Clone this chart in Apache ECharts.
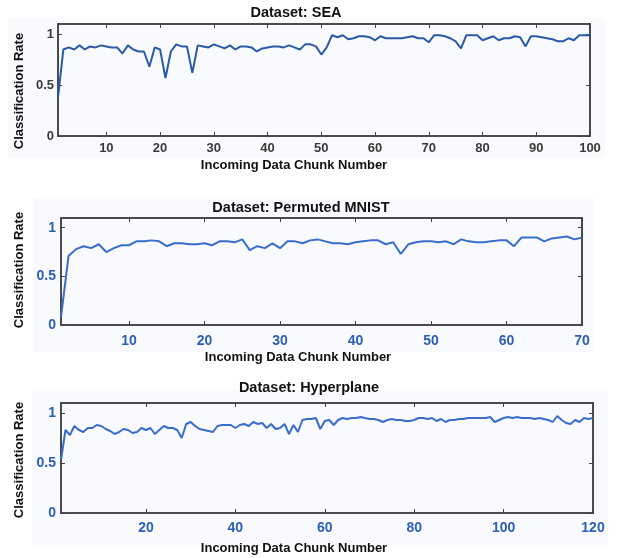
<!DOCTYPE html>
<html><head><meta charset="utf-8">
<script src="https://cdn.jsdelivr.net/npm/echarts@6/dist/echarts.min.js"></script>
<style>html,body{margin:0;padding:0;background:#fff}#c{width:618px;height:558px}</style>
</head><body><div id="c"></div>
<script>
const seaRate = [0.38,0.85,0.87,0.85,0.89,0.85,0.88,0.87,0.89,0.88,
 0.87,0.87,0.81,0.89,0.85,0.83,0.83,0.68,0.87,0.85,
 0.57,0.83,0.90,0.88,0.88,0.62,0.89,0.88,0.87,0.90,
 0.88,0.86,0.89,0.85,0.88,0.88,0.87,0.83,0.86,0.87,
 0.88,0.88,0.87,0.89,0.87,0.85,0.90,0.90,0.88,0.80,
 0.87,0.99,0.97,0.99,0.95,0.96,0.98,0.98,0.97,0.94,
 0.98,0.96,0.96,0.96,0.96,0.97,0.98,0.96,0.96,0.92,
 0.99,0.99,0.98,0.96,0.93,0.86,0.99,0.99,0.99,0.94,
 0.96,0.98,0.94,0.96,0.96,0.98,0.97,0.88,0.98,0.98,
 0.97,0.96,0.95,0.93,0.93,0.96,0.94,0.99,0.99,0.99];
const mnistRate = [0.08,0.71,0.78,0.81,0.79,0.83,0.75,0.79,0.82,0.82,
 0.86,0.86,0.87,0.86,0.81,0.84,0.84,0.83,0.83,0.84,
 0.82,0.86,0.86,0.85,0.88,0.77,0.81,0.79,0.84,0.79,
 0.86,0.86,0.84,0.87,0.88,0.86,0.84,0.84,0.83,0.85,
 0.86,0.87,0.87,0.83,0.85,0.73,0.83,0.85,0.86,0.86,
 0.85,0.86,0.83,0.88,0.86,0.85,0.85,0.86,0.87,0.87,
 0.81,0.90,0.90,0.90,0.86,0.89,0.90,0.91,0.88,0.90];
const hyperRate = [0.53,0.83,0.78,0.87,0.83,0.81,0.85,0.85,0.88,0.87,
 0.84,0.82,0.79,0.81,0.84,0.83,0.80,0.81,0.85,0.83,
 0.85,0.79,0.83,0.87,0.85,0.85,0.83,0.75,0.89,0.91,
 0.87,0.84,0.83,0.82,0.81,0.87,0.88,0.88,0.88,0.85,
 0.88,0.89,0.87,0.91,0.89,0.90,0.85,0.89,0.84,0.85,
 0.89,0.79,0.88,0.81,0.93,0.94,0.94,0.95,0.84,0.92,
 0.93,0.88,0.93,0.95,0.94,0.95,0.95,0.96,0.95,0.94,
 0.94,0.93,0.91,0.93,0.94,0.93,0.93,0.92,0.92,0.93,
 0.95,0.95,0.94,0.95,0.92,0.94,0.91,0.93,0.93,0.94,
 0.94,0.95,0.95,0.95,0.95,0.95,0.96,0.91,0.93,0.95,
 0.96,0.95,0.96,0.95,0.95,0.95,0.94,0.95,0.94,0.93,
 0.91,0.97,0.93,0.90,0.89,0.93,0.91,0.95,0.94,0.95];
const seaTicks = [10,20,30,40,50,60,70,80,90,100];
const mnistTicks = [10,20,30,40,50,60,70];
const hyperTicks = [20,40,60,80,100,120];
const rateTicks = [0,0.5,1];
const titles = ['Dataset: SEA','Dataset: Permuted MNIST','Dataset: Hyperplane'];
const xName = 'Incoming Data Chunk Number';
const yName = 'Classification Rate';

const panels = [
  {data: seaRate, ticks: seaTicks, grid:{left:58,top:24,width:532,height:112}, labelColor:'#3a3a3a', lineColor:'#2b5aa8', fs:13, xm:6, ym:4,
   bg:[8,18,597,140], title:[296,13], xname:[294,165], yname:[19,91]},
  {data: mnistRate, ticks: mnistTicks, grid:{left:61,top:218,width:521,height:107}, labelColor:'#2d5fb8', lineColor:'#3a6ccc', fs:14, xm:9, ym:5,
   bg:[33,198,560,154], title:[301,208], xname:[298,357], yname:[19,270]},
  {data: hyperRate, ticks: hyperTicks, grid:{left:61,top:403,width:532,height:110}, labelColor:'#2d5fb8', lineColor:'#3a6ccc', fs:14, xm:8, ym:5,
   bg:[32,390,576,157], title:[309,388], xname:[294,548], yname:[19,460]}
];

const grid=[], xAxis=[], yAxis=[], series=[], graphic=[];
const axisCol = '#404040';
panels.forEach((p,k)=>{
  grid.push(Object.assign({show:true, backgroundColor:'#f8fafd', borderColor:axisCol, borderWidth:1.5, containLabel:false}, p.grid));
  const n = p.data.length;
  const common = {type:'value', gridIndex:k, min:1, max:n, splitLine:{show:false},
    axisLine:{show:true, onZero:false, lineStyle:{color:axisCol, width:1.5}}};
  xAxis.push(Object.assign({}, common, {position:'bottom',
    axisTick:{show:true, inside:true, length:4, customValues:p.ticks, lineStyle:{color:axisCol}},
    axisLabel:{show:true, customValues:p.ticks, margin:p.xm, color:p.labelColor, fontWeight:'bold', fontSize:p.fs, fontFamily:'Liberation Sans, Arial, sans-serif'}}));
  xAxis.push(Object.assign({}, common, {position:'top',
    axisTick:{show:true, inside:true, length:4, customValues:p.ticks, lineStyle:{color:axisCol}},
    axisLabel:{show:false}}));
  const ycommon = {type:'value', gridIndex:k, min:0, max:1.1, splitLine:{show:false},
    axisLine:{show:true, onZero:false, lineStyle:{color:axisCol, width:1.5}}};
  yAxis.push(Object.assign({}, ycommon, {position:'left',
    axisTick:{show:true, inside:true, length:4, customValues:rateTicks, lineStyle:{color:axisCol}},
    axisLabel:{show:true, customValues:rateTicks, margin:p.ym, color:p.labelColor, fontWeight:'bold', fontSize:p.fs, fontFamily:'Liberation Sans, Arial, sans-serif'}}));
  yAxis.push(Object.assign({}, ycommon, {position:'right',
    axisTick:{show:true, inside:true, length:4, customValues:rateTicks, lineStyle:{color:axisCol}},
    axisLabel:{show:false}}));
  series.push({type:'line', xAxisIndex:2*k, yAxisIndex:2*k, showSymbol:false, animation:false,
    data: p.data.map((v,i)=>[i+1,v]), lineStyle:{color:p.lineColor, width:2}, itemStyle:{color:p.lineColor}});
  graphic.push({type:'rect', z:-10, silent:true, shape:{x:p.bg[0], y:p.bg[1], width:p.bg[2], height:p.bg[3]}, style:{fill:'#f9fafd'}});
  const tf = {fontFamily:'Liberation Sans, Arial, sans-serif', fontWeight:'bold', fill:'#111', align:'center', verticalAlign:'middle'};
  graphic.push({type:'text', x:p.title[0], y:p.title[1], style:Object.assign({text:titles[k], fontSize:14.5}, tf)});
  graphic.push({type:'text', x:p.xname[0], y:p.xname[1], style:Object.assign({text:xName, fontSize:13}, tf)});
  graphic.push({type:'text', x:p.yname[0], y:p.yname[1], rotation:Math.PI/2, style:Object.assign({text:yName, fontSize:13, fill:'#333'}, tf)});
});

const chart = echarts.init(document.getElementById('c'), null, {renderer:'canvas'});
chart.setOption({animation:false, grid, xAxis, yAxis, series, graphic});
</script></body></html>
